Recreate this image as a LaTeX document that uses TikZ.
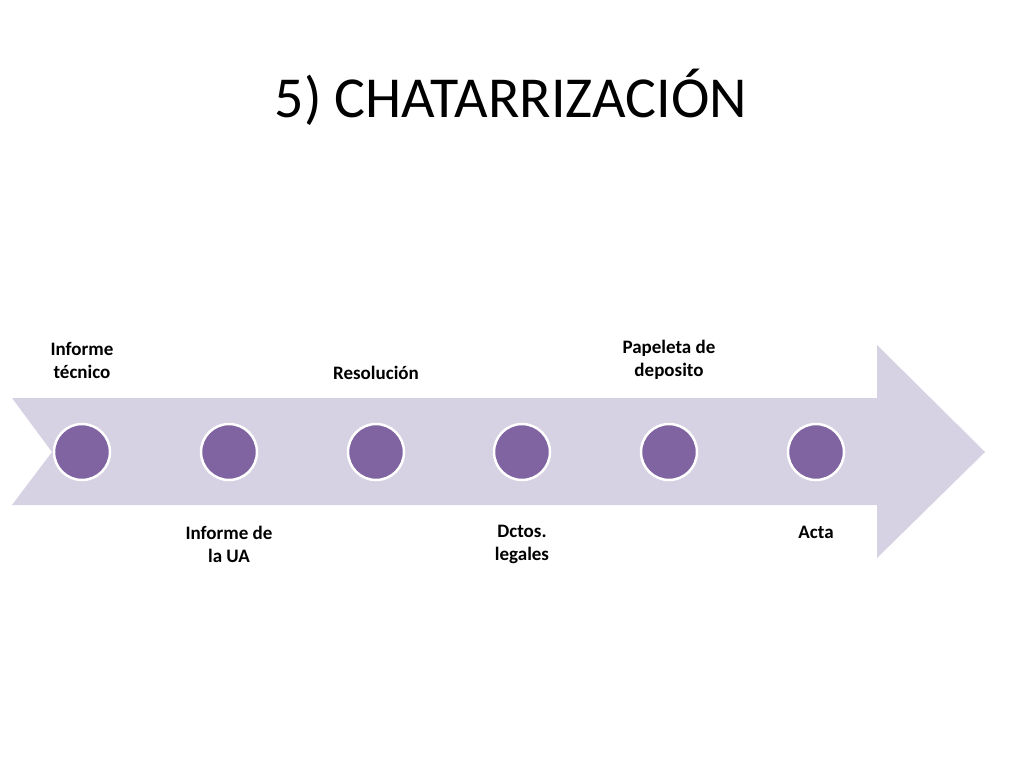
\documentclass[tikz,border=0pt]{standalone}
\usepackage{fontspec}
\setmainfont{Carlito}
\begin{document}
\begin{tikzpicture}[x=1pt,y=-1pt,
  dot/.style={circle,fill=dotc,draw=white,line width=2.5pt,minimum size=56pt,inner sep=0pt},
  lab/.style={font=\bfseries\fontsize{19}{23}\selectfont,align=center,text=black}]
\definecolor{arr}{RGB}{214,209,227}
\definecolor{dotc}{RGB}{128,100,162}
\useasboundingbox (0,0) rectangle (1024,768);
\node[font=\fontsize{58}{64}\selectfont] (title) at (511,97) {5) CHATARRIZACIÓN};
\fill[arr] (12,398) -- (877,398) -- (877,345) -- (985,452) -- (877,558) -- (877,505) -- (12,505) -- (52,452) -- cycle;
\foreach \x/\n in {82/a,229/b,376/c,522/d,669/e,816/f}{\node[dot] (\n) at (\x,452) {};}
\node[lab] (la) at (82,360) {Informe\\técnico};
\node[lab] (lb) at (229,544) {Informe de\\la UA};
\node[lab] (lc) at (376,373) {Resolución};
\node[lab] (ld) at (522,544) {Dctos.\\legales};
\node[lab] (le) at (669,360) {Papeleta de\\deposito};
\node[lab] (lf) at (816,532) {Acta};
\end{tikzpicture}
\end{document}
